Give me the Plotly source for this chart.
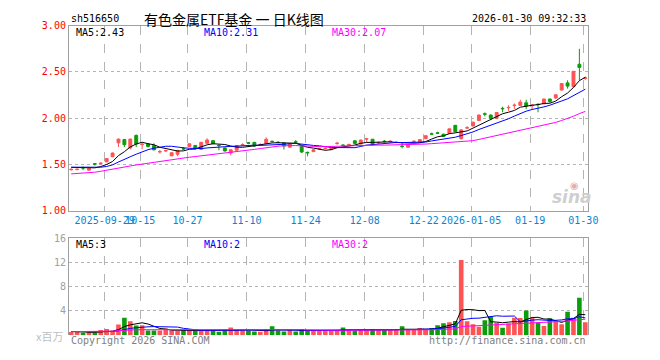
import plotly.graph_objects as go
import pandas as pd

# ---------------- data ----------------
dates = [
    "2025-09-19", "2025-09-22", "2025-09-23", "2025-09-24", "2025-09-25", "2025-09-26", "2025-09-29", "2025-09-30",
    "2025-10-09", "2025-10-10", "2025-10-13", "2025-10-14", "2025-10-15", "2025-10-16", "2025-10-17", "2025-10-20",
    "2025-10-21", "2025-10-22", "2025-10-23", "2025-10-24", "2025-10-27", "2025-10-28", "2025-10-29", "2025-10-30",
    "2025-10-31", "2025-11-03", "2025-11-04", "2025-11-05", "2025-11-06", "2025-11-07", "2025-11-10", "2025-11-11",
    "2025-11-12", "2025-11-13", "2025-11-14", "2025-11-17", "2025-11-18", "2025-11-19", "2025-11-20", "2025-11-21",
    "2025-11-24", "2025-11-25", "2025-11-26", "2025-11-27", "2025-11-28", "2025-12-01", "2025-12-02", "2025-12-03",
    "2025-12-04", "2025-12-05", "2025-12-08", "2025-12-09", "2025-12-10", "2025-12-11", "2025-12-12", "2025-12-15",
    "2025-12-16", "2025-12-17", "2025-12-18", "2025-12-19", "2025-12-22", "2025-12-23", "2025-12-24", "2025-12-25",
    "2025-12-26", "2025-12-29", "2025-12-30", "2025-12-31", "2026-01-05", "2026-01-06", "2026-01-07", "2026-01-08",
    "2026-01-09", "2026-01-12", "2026-01-13", "2026-01-14", "2026-01-15", "2026-01-16", "2026-01-19", "2026-01-20",
    "2026-01-21", "2026-01-22", "2026-01-23", "2026-01-26", "2026-01-27", "2026-01-28", "2026-01-29", "2026-01-30",
]

opens = [
    1.445, 1.446, 1.468, 1.440, 1.510, 1.510, 1.530, 1.585, 1.735, 1.770,
    1.680, 1.815, 1.716, 1.722, 1.705, 1.637, 1.647, 1.595, 1.612, 1.674,
    1.695, 1.707, 1.665, 1.730, 1.758, 1.708, 1.680, 1.625, 1.655, 1.713,
    1.735, 1.740, 1.713, 1.727, 1.752, 1.742, 1.733, 1.688, 1.746, 1.708,
    1.632, 1.640, 1.668, 1.672, 1.662, 1.727, 1.711, 1.713, 1.757, 1.722,
    1.777, 1.774, 1.734, 1.753, 1.748, 1.738, 1.700, 1.688, 1.748, 1.743,
    1.780, 1.833, 1.843, 1.828, 1.835, 1.924, 1.780, 1.894, 1.917, 1.976,
    2.048, 2.035, 2.000, 2.107, 2.113, 2.137, 2.139, 2.167, 2.137, 2.152,
    2.156, 2.208, 2.219, 2.305, 2.382, 2.340, 2.583, 2.432,
]
highs = [
    1.460, 1.458, 1.480, 1.465, 1.515, 1.525, 1.570, 1.630, 1.780, 1.775,
    1.780, 1.826, 1.733, 1.730, 1.730, 1.660, 1.660, 1.632, 1.660, 1.690,
    1.730, 1.710, 1.745, 1.785, 1.765, 1.715, 1.685, 1.665, 1.710, 1.730,
    1.745, 1.745, 1.730, 1.795, 1.760, 1.750, 1.740, 1.730, 1.765, 1.712,
    1.640, 1.665, 1.680, 1.685, 1.680, 1.745, 1.720, 1.728, 1.760, 1.770,
    1.779, 1.776, 1.750, 1.765, 1.762, 1.750, 1.733, 1.720, 1.760, 1.775,
    1.816, 1.845, 1.855, 1.833, 1.890, 1.928, 1.880, 1.915, 1.962, 2.040,
    2.063, 2.040, 2.068, 2.125, 2.140, 2.160, 2.200, 2.200, 2.150, 2.160,
    2.212, 2.210, 2.260, 2.380, 2.410, 2.510, 2.750, 2.450,
]
lows = [
    1.435, 1.440, 1.440, 1.435, 1.490, 1.500, 1.525, 1.580, 1.690, 1.690,
    1.665, 1.690, 1.665, 1.685, 1.652, 1.620, 1.640, 1.590, 1.590, 1.655,
    1.690, 1.665, 1.660, 1.725, 1.720, 1.655, 1.640, 1.600, 1.650, 1.705,
    1.720, 1.695, 1.700, 1.722, 1.740, 1.730, 1.663, 1.683, 1.722, 1.625,
    1.590, 1.635, 1.660, 1.665, 1.655, 1.715, 1.700, 1.705, 1.725, 1.718,
    1.743, 1.708, 1.725, 1.740, 1.740, 1.730, 1.675, 1.683, 1.740, 1.738,
    1.775, 1.820, 1.830, 1.800, 1.830, 1.850, 1.770, 1.885, 1.912, 1.970,
    2.020, 1.980, 1.990, 2.065, 2.080, 2.100, 2.135, 2.100, 2.090, 2.065,
    2.150, 2.167, 2.210, 2.300, 2.320, 2.335, 2.410, 2.415,
]
closes = [
    1.449, 1.450, 1.463, 1.460, 1.505, 1.515, 1.565, 1.625, 1.775, 1.715,
    1.775, 1.722, 1.720, 1.695, 1.660, 1.640, 1.651, 1.628, 1.653, 1.669,
    1.725, 1.670, 1.740, 1.765, 1.726, 1.705, 1.648, 1.660, 1.705, 1.717,
    1.731, 1.700, 1.717, 1.774, 1.748, 1.739, 1.700, 1.726, 1.742, 1.636,
    1.628, 1.660, 1.672, 1.675, 1.672, 1.731, 1.707, 1.717, 1.729, 1.765,
    1.778, 1.712, 1.738, 1.749, 1.752, 1.742, 1.696, 1.715, 1.752, 1.770,
    1.812, 1.829, 1.839, 1.805, 1.886, 1.854, 1.875, 1.898, 1.958, 2.035,
    2.044, 2.000, 2.0625, 2.103, 2.117, 2.141, 2.174, 2.132, 2.141, 2.148,
    2.208, 2.180, 2.253, 2.375, 2.347, 2.507, 2.549, 2.436,
]
volumes = [  # millions
    0.50, 0.50, 0.40, 0.50, 0.40, 0.85, 1.00, 0.55, 1.76, 2.88,
    2.29, 1.60, 1.65, 0.75, 0.75, 0.75, 1.10, 0.75, 0.75, 0.85,
    0.75, 0.75, 0.75, 0.75, 0.75, 0.55, 0.75, 1.27, 0.85, 0.75,
    0.75, 0.60, 0.55, 1.00, 1.45, 0.75, 0.60, 0.85, 0.60, 1.00,
    0.75, 0.75, 0.75, 0.70, 0.70, 0.85, 1.25, 0.85, 0.69, 0.85,
    0.85, 1.00, 0.85, 0.85, 0.85, 0.85, 1.45, 0.85, 0.85, 1.17,
    0.85, 1.17, 1.65, 1.97, 2.13, 2.35, 12.37, 2.29, 1.81, 1.39,
    2.45, 3.09, 2.05, 1.23, 1.92, 2.88, 2.83, 4.05, 2.88, 2.05,
    1.49, 2.77, 2.35, 1.81, 3.87, 2.88, 6.18, 2.13,
]

# moving-average values visible at the left edge (window reaches before first shown day)
ma5_head = [1.470, 1.468, 1.466, 1.465]
ma10_head = [1.472, 1.472, 1.471, 1.470, 1.470, 1.472, 1.480, 1.497, 1.528]
ma30_head = [1.400, 1.403, 1.406, 1.410, 1.418, 1.428, 1.438, 1.450, 1.462, 1.474,
             1.485, 1.496, 1.506, 1.516, 1.527, 1.538, 1.548, 1.558, 1.566, 1.574,
             1.580, 1.587, 1.594, 1.601, 1.609, 1.617, 1.625, 1.633, 1.641]
vma5_head = [0.60, 0.55, 0.50, 0.50]
vma10_head = [0.60, 0.60, 0.58, 0.56, 0.55, 0.55, 0.60, 0.60, 0.72]
vma30_head = [0.58, 0.58, 0.58, 0.58, 0.58, 0.60, 0.62, 0.65, 0.75, 0.82,
              0.86, 0.88, 0.90, 0.90, 0.90, 0.91, 0.91, 0.91, 0.92, 0.92,
              0.92, 0.92, 0.93, 0.93, 0.93, 0.93, 0.94, 0.94, 0.94]

tick_dates = ["2025-09-29", "2025-10-15", "2025-10-27", "2025-11-10", "2025-11-24",
              "2025-12-08", "2025-12-22", "2026-01-05", "2026-01-19", "2026-01-30"]
tick_labels = ["2025-09-29", "10-15", "10-27", "11-10", "11-24",
               "12-08", "12-22", "2026-01-05", "01-19", "01-30"]

price_ticks = [1.0, 1.5, 2.0, 2.5, 3.0]
price_tick_text = ["1.00", "1.50", "2.00", "2.50", "3.00"]
vol_ticks = [4, 8, 12, 16]
vol_tick_text = ["4", "8", "12", "16"]

title_text = "有色金属ETF基金 一 日K线图"
code_text = "sh516650"
time_text = "2026-01-30 09:32:33"
price_legend = ["MA5:2.43", "MA10:2.31", "MA30:2.07"]
vol_legend = ["MA5:3", "MA10:2", "MA30:2"]

# ---------------- helpers ----------------
W, H = 660, 360
RED = "#ff5454"
GREEN = "#0a9e0a"
GRID = "#b4b4b4"
AXIS = "#a0a0a0"
MONO = "DejaVu Sans Mono, Liberation Mono, Noto Sans CJK SC, monospace"
CJK = "Noto Sans CJK SC, sans-serif"


def moving_avg(values, n, head):
    s = pd.Series(values).rolling(n).mean().tolist()
    return list(head) + s[len(head):]


def px(x):
    return x / W


def py(y):
    return 1 - y / H


x = list(range(len(dates)))
ma5 = moving_avg(closes, 5, ma5_head)
ma10 = moving_avg(closes, 10, ma10_head)
ma30 = moving_avg(closes, 30, ma30_head)
vma5 = moving_avg(volumes, 5, vma5_head)
vma10 = moving_avg(volumes, 10, vma10_head)
vma30 = moving_avg(volumes, 30, vma30_head)
bar_colors = [RED if c >= o else GREEN for o, c in zip(opens, closes)]
tick_pos = [dates.index(d) - 0.33 for d in tick_dates]

fig = go.Figure()
fig.add_trace(go.Candlestick(
    x=x, open=opens, high=highs, low=lows, close=closes,
    increasing=dict(line=dict(color=RED, width=1), fillcolor=RED),
    decreasing=dict(line=dict(color=GREEN, width=1), fillcolor=GREEN),
    whiskerwidth=0, xaxis="x", yaxis="y", hoverinfo="skip",
))
for vals, col in [(ma5, "#000000"), (ma10, "#0000ff"), (ma30, "#ff00ff")]:
    fig.add_trace(go.Scatter(x=x, y=vals, mode="lines", line=dict(color=col, width=1),
                             xaxis="x", yaxis="y", hoverinfo="skip"))
fig.add_trace(go.Bar(x=x, y=volumes, marker=dict(color=bar_colors, line=dict(width=0)),
                     width=0.78, xaxis="x2", yaxis="y2", hoverinfo="skip"))
for vals, col in [(vma5, "#000000"), (vma10, "#0000ff"), (vma30, "#ff00ff")]:
    fig.add_trace(go.Scatter(x=x, y=vals, mode="lines", line=dict(color=col, width=1),
                             xaxis="x2", yaxis="y2", hoverinfo="skip"))

xr = [-0.383, 87.45]
xdom = [px(70), px(597)]
fig.update_layout(
    width=W, height=H, margin=dict(l=0, r=0, t=0, b=0),
    paper_bgcolor="white", plot_bgcolor="white", showlegend=False,
    xaxis=dict(domain=xdom, range=xr, anchor="y", tickvals=tick_pos, ticktext=tick_labels,
               tickangle=0, tickfont=dict(family=MONO, size=10, color="#0a84d0"),
               showgrid=True, gridcolor=GRID, griddash="dash", gridwidth=1,
               showline=True, linecolor=AXIS, linewidth=1, mirror=True,
               ticks="", zeroline=False, rangeslider=dict(visible=False)),
    yaxis=dict(domain=[py(212), py(20.3)], range=[1, 3], anchor="x",
               tickvals=price_ticks, ticktext=price_tick_text,
               tickfont=dict(family=MONO, size=10, color="#ff0000"),
               showgrid=True, gridcolor=GRID, griddash="dot", gridwidth=1,
               showline=True, linecolor=AXIS, linewidth=1, mirror=True,
               ticks="", zeroline=False),
    xaxis2=dict(domain=xdom, range=xr, anchor="y2", side="top", tickvals=tick_pos,
                showticklabels=False, showgrid=True, gridcolor=GRID, griddash="dash",
                gridwidth=1, showline=True, linecolor=AXIS, linewidth=1, mirror=False,
                ticks="", zeroline=False),
    yaxis2=dict(domain=[py(340.5), py(240)], range=[0, 16], anchor="x2",
                tickvals=vol_ticks, ticktext=vol_tick_text,
                tickfont=dict(family=MONO, size=10, color="#a0a0a0"),
                showgrid=True, gridcolor=GRID, griddash="dot", gridwidth=1,
                showline=True, linecolor=AXIS, linewidth=1, mirror=True,
                ticks="", zeroline=False),
    bargap=0.2,
)


def note(text, x0, y0, anchor="left", size=10, color="#000000", family=MONO, **kw):
    fig.add_annotation(text=text, x=px(x0), y=py(y0), xref="paper", yref="paper",
                       xanchor=anchor, yanchor="middle", showarrow=False,
                       font=dict(family=family, size=size, color=color), **kw)


note(code_text, 70, 13)
note(title_text, 238, 13, anchor="center", size=14, family=CJK)
note(time_text, 597, 13, anchor="right")
for txt, x0, col in zip(price_legend, [75, 205, 335], ["#000000", "#0000ff", "#ff00ff"]):
    note(txt, x0, 27, color=col)
for txt, x0, col in zip(vol_legend, [75, 205, 335], ["#000000", "#0000ff", "#ff00ff"]):
    note(txt, x0, 247, color=col)
note("x百万", 66, 341, anchor="right", color="#c0c0c0", family=CJK, size=11)
note("Copyright 2026 SINA.COM", 70, 346, color="#808080")
note("http://finance.sina.com.cn", 597, 346, anchor="right", color="#808080")
note("<b><i>sina</i></b>", 581, 198, anchor="center", size=17, color="#cfcfcf",
     family="DejaVu Sans, sans-serif")
note("◉", 583, 186, anchor="center", size=10, color="#e0b0b0", family="DejaVu Sans, sans-serif")

fig.write_html("out.html")
